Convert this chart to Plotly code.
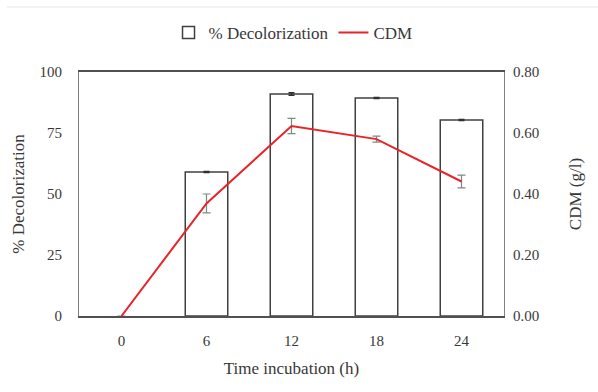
import plotly.graph_objects as go

categories = ["0", "6", "12", "18", "24"]
decolorization = [None, 59, 91, 89.3, 80.3]
decolorization_err = [0, 0.2, 0.5, 0.2, 0.2]
cdm = [0.0, 0.369, 0.623, 0.58, 0.441]
cdm_err = [0, 0.031, 0.025, 0.01, 0.021]

FONT = "Liberation Serif"
TXT = "#383838"

fig = go.Figure()
fig.add_trace(go.Bar(
    x=categories, y=decolorization, name="% Decolorization",
    width=0.5,
    marker=dict(color="white", line=dict(color="#404040", width=1.5)),
    error_y=dict(type="data", array=decolorization_err, color="#303030", thickness=1.5, width=3),
    yaxis="y",
))
fig.add_trace(go.Scatter(
    x=categories, y=cdm, name="CDM", mode="lines",
    line=dict(color="#e8232a", width=2),
    error_y=dict(type="data", array=cdm_err, color="#7a8c80", thickness=1.2, width=4),
    yaxis="y2",
))

fig.update_layout(
    width=598, height=392,
    margin=dict(l=79, r=94, t=72, b=76, autoexpand=False),
    paper_bgcolor="white", plot_bgcolor="white",
    font=dict(family=FONT, size=15, color=TXT),
    showlegend=True,
    legend=dict(orientation="h", x=0.49, xanchor="center", xref="container",
                y=1 - 33 / 392, yanchor="middle", yref="container",
                font=dict(family=FONT, size=17, color=TXT), itemwidth=30,
                bgcolor="rgba(0,0,0,0)"),
    xaxis=dict(type="category", range=[-0.5, 4.5], showline=True, linecolor="#505050",
               linewidth=1.5, mirror=True, ticks="outside", ticklen=10, tickcolor="rgba(0,0,0,0)",
               showgrid=False, automargin=False,
               title=dict(text="Time incubation (h)", font=dict(family=FONT, size=17, color=TXT), standoff=14),
               tickfont=dict(family=FONT, size=15, color=TXT)),
    yaxis=dict(range=[0, 100], tickvals=[0, 25, 50, 75, 100], showline=True, linecolor="#808080",
               linewidth=1.2, mirror=False, ticks="outside", ticklen=13, tickcolor="rgba(0,0,0,0)",
               showgrid=False, zeroline=False, automargin=False,
               title=dict(text="% Decolorization", font=dict(family=FONT, size=17, color=TXT), standoff=10),
               tickfont=dict(family=FONT, size=15, color=TXT)),
    yaxis2=dict(range=[0, 0.8], tickvals=[0, 0.2, 0.4, 0.6, 0.8], tickformat=".2f",
                overlaying="y", side="right", showline=True, linecolor="#808080", linewidth=1.2,
                ticks="outside", ticklen=5, tickcolor="rgba(0,0,0,0)",
                showgrid=False, zeroline=False, automargin=False,
                title=dict(text="CDM (g/l)", font=dict(family=FONT, size=17, color=TXT), standoff=30),
                tickfont=dict(family=FONT, size=15, color=TXT)),
    shapes=[dict(type="line", xref="paper", yref="paper", x0=-0.17, x1=1.25,
                 y0=(316 - 7) / 244, y1=(316 - 7) / 244, line=dict(color="#e6e6e6", width=1))],
)

fig.write_html("out.html", config={"displayModeBar": False},
               post_script="document.body.style.margin='0';document.body.style.overflow='hidden';")
